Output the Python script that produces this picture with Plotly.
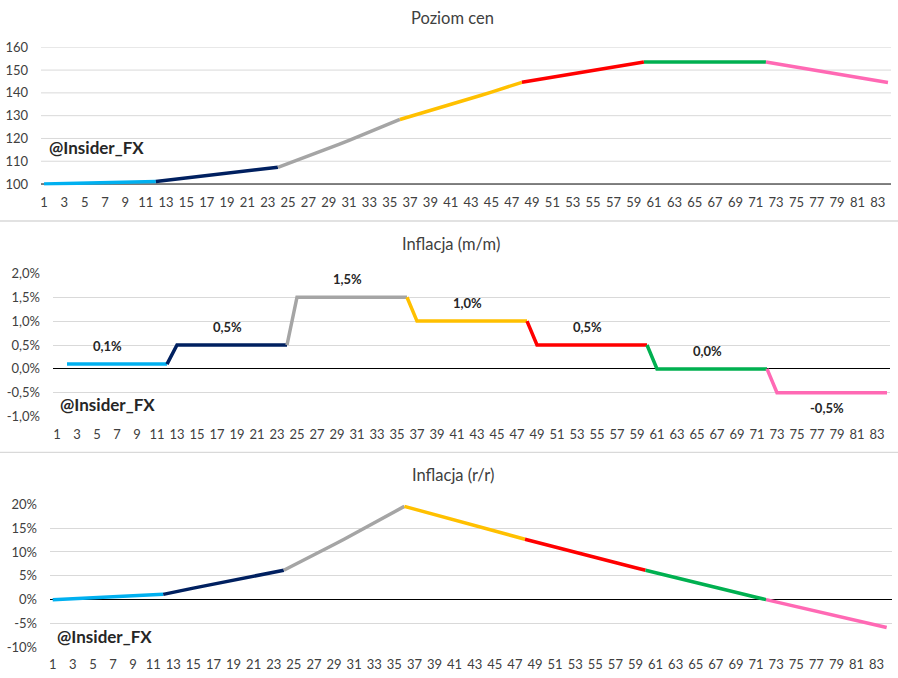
import plotly.graph_objects as go

W, H = 898, 678

months = list(range(1, 85))

price_level = [
    100.00, 100.10, 100.20, 100.30, 100.40, 100.50, 100.60, 100.70, 100.80, 100.90, 101.00, 101.11,
    101.61, 102.12, 102.63, 103.14, 103.66, 104.18, 104.70, 105.22, 105.75, 106.28, 106.81, 107.34,
    108.95, 110.59, 112.24, 113.93, 115.64, 117.37, 119.13, 120.92, 122.73, 124.57, 126.44, 128.34,
    129.62, 130.92, 132.23, 133.55, 134.89, 136.23, 137.60, 138.97, 140.36, 141.77, 143.18, 144.62,
    145.34, 146.07, 146.80, 147.53, 148.27, 149.01, 149.75, 150.50, 151.26, 152.01, 152.77, 153.54,
    153.54, 153.54, 153.54, 153.54, 153.54, 153.54, 153.54, 153.54, 153.54, 153.54, 153.54, 153.54,
    152.77, 152.00, 151.24, 150.49, 149.74, 148.99, 148.24, 147.50, 146.76, 146.03, 145.30, 144.57,
]

mm_inflation = [
    None, 0.1, 0.1, 0.1, 0.1, 0.1, 0.1, 0.1, 0.1, 0.1, 0.1, 0.1,
    0.5, 0.5, 0.5, 0.5, 0.5, 0.5, 0.5, 0.5, 0.5, 0.5, 0.5, 0.5,
    1.5, 1.5, 1.5, 1.5, 1.5, 1.5, 1.5, 1.5, 1.5, 1.5, 1.5, 1.5,
    1.0, 1.0, 1.0, 1.0, 1.0, 1.0, 1.0, 1.0, 1.0, 1.0, 1.0, 1.0,
    0.5, 0.5, 0.5, 0.5, 0.5, 0.5, 0.5, 0.5, 0.5, 0.5, 0.5, 0.5,
    0.0, 0.0, 0.0, 0.0, 0.0, 0.0, 0.0, 0.0, 0.0, 0.0, 0.0, 0.0,
    -0.5, -0.5, -0.5, -0.5, -0.5, -0.5, -0.5, -0.5, -0.5, -0.5, -0.5, -0.5,
]

yy_inflation = [
    0.00, 0.10, 0.20, 0.30, 0.40, 0.50, 0.60, 0.70, 0.80, 0.90, 1.00, 1.11,
    1.61, 2.02, 2.42, 2.83, 3.25, 3.66, 4.07, 4.49, 4.91, 5.32, 5.75, 6.17,
    7.22, 8.29, 9.37, 10.46, 11.56, 12.67, 13.79, 14.92, 16.06, 17.22, 18.38, 19.56,
    18.97, 18.39, 17.80, 17.22, 16.65, 16.07, 15.50, 14.93, 14.36, 13.80, 13.24, 12.68,
    12.12, 11.57, 11.02, 10.47, 9.92, 9.38, 8.84, 8.30, 7.76, 7.23, 6.70, 6.17,
    5.64, 5.11, 4.59, 4.07, 3.55, 3.04, 2.53, 2.02, 1.51, 1.00, 0.50, 0.00,
    -0.50, -1.00, -1.49, -1.99, -2.48, -2.96, -3.45, -3.93, -4.41, -4.89, -5.36, -5.84,
]

segment_ends = [12, 24, 36, 48, 60, 72, 84]
segment_colors = ["#00B0F0", "#002060", "#A5A5A5", "#FFC000", "#FF0000", "#00B050", "#FF69B4"]

mm_label_months = [6, 18, 30, 42, 54, 66, 78]
mm_label_text = ["0,1%", "0,5%", "1,5%", "1,0%", "0,5%", "0,0%", "-0,5%"]

price_ticks = [100, 110, 120, 130, 140, 150, 160]
mm_ticks = [-1.0, -0.5, 0.0, 0.5, 1.0, 1.5, 2.0]
mm_tick_text = ["-1,0%", "-0,5%", "0,0%", "0,5%", "1,0%", "1,5%", "2,0%"]
yy_ticks = [-10, -5, 0, 5, 10, 15, 20]
yy_tick_text = ["-10%", "-5%", "0%", "5%", "10%", "15%", "20%"]
x_tick_vals = list(range(1, 85, 2))
x_tick_text = [str(v) for v in x_tick_vals]

chart_titles = ["Poziom cen", "Inflacja (m/m)", "Inflacja (r/r)"]
watermark = "@Insider_FX"

FONT = "Lato, Carlito, Calibri, sans-serif"
TXT = "#404040"
GRID = "#D9D9D9"

fig = go.Figure()

series = [(price_level, "x", "y"), (mm_inflation, "x2", "y2"), (yy_inflation, "x3", "y3")]
for vals, xa, ya in series:
    start = 1
    for end, col in zip(segment_ends, segment_colors):
        xs = months[start - 1:end]
        ys = vals[start - 1:end]
        fig.add_trace(go.Scatter(x=xs, y=ys, mode="lines", xaxis=xa, yaxis=ya,
                                 line=dict(color=col, width=3.5), showlegend=False,
                                 hoverinfo="skip", connectgaps=False))
        start = end


def px_y(p):
    return 1 - p / H


def px_x(p):
    return p / W


xcommon = dict(tickmode="array", tickvals=x_tick_vals, ticktext=x_tick_text, showgrid=False,
               zeroline=False, showline=False, ticks="", tickfont=dict(family=FONT, size=13, color=TXT),
               ticklabelstandoff=8, fixedrange=True, automargin=False)
ycommon = dict(tickmode="array", ticks="", tickfont=dict(family=FONT, size=13, color=TXT),
               ticklabelstandoff=12, showline=False, automargin=False, fixedrange=True)

fig.update_layout(
    width=W, height=H, autosize=False, margin=dict(l=0, r=0, t=0, b=0, pad=0),
    paper_bgcolor="white", plot_bgcolor="white", showlegend=False,
    font=dict(family=FONT, color=TXT),
    xaxis=dict(domain=[px_x(41), px_x(891)], range=[0.7, 84.3], anchor="y", **xcommon),
    yaxis=dict(domain=[px_y(185.4), px_y(47.3)], range=[99.4, 160], anchor="x",
               tickvals=price_ticks, showgrid=False, zeroline=False, **ycommon),
    xaxis2=dict(domain=[px_x(53), px_x(890)], range=[0.6, 84.3], anchor="y2", **xcommon),
    yaxis2=dict(domain=[px_y(416.7), px_y(273.3)], range=[-1, 2], anchor="x2",
                tickvals=mm_ticks, ticktext=mm_tick_text, showgrid=True, gridcolor=GRID, gridwidth=1,
                zeroline=True, zerolinecolor="black", zerolinewidth=1, **ycommon),
    xaxis3=dict(domain=[px_x(50), px_x(891.7)], range=[0.73, 84.5], anchor="y3", **xcommon),
    yaxis3=dict(domain=[px_y(647.3), px_y(504.3)], range=[-10, 20], anchor="x3",
                tickvals=yy_ticks, ticktext=yy_tick_text, showgrid=True, gridcolor=GRID, gridwidth=1,
                zeroline=True, zerolinecolor="black", zerolinewidth=1, **ycommon),
)

# gridlines and black baseline of the price chart (drawn beneath the data)
for v in price_ticks:
    fig.add_shape(type="line", xref="x domain", yref="y", x0=0, x1=1, y0=v, y1=v,
                  line=dict(color=("black" if v == price_ticks[0] else GRID), width=1), layer="below")

# separators between the three charts
for yp in (221, 452.3):
    fig.add_shape(type="line", xref="paper", yref="paper", x0=0, x1=1, y0=px_y(yp), y1=px_y(yp),
                  line=dict(color=GRID, width=1.3))

# titles
for t, (xp, yp) in zip(chart_titles, [(452, 18), (451, 244), (453, 475)]):
    fig.add_annotation(text=t, xref="paper", yref="paper", x=px_x(xp), y=px_y(yp),
                       xanchor="center", yanchor="middle", showarrow=False,
                       font=dict(family=FONT, size=16.5, color=TXT))

# watermarks
for xp, yp in [(47, 148), (58, 404), (55, 636)]:
    fig.add_annotation(text="<b>" + watermark + "</b>", xref="paper", yref="paper",
                       x=px_x(xp), y=px_y(yp), xanchor="left", yanchor="middle", showarrow=False,
                       font=dict(family=FONT, size=17, color="#262626"))

# data labels for m/m
for m, lab in zip(mm_label_months, mm_label_text):
    v = mm_inflation[m - 1]
    fig.add_annotation(text="<b>" + lab + "</b>", xref="x2", yref="y2", x=m, y=v,
                       yshift=(-15 if v < 0 else 18), showarrow=False,
                       font=dict(family=FONT, size=13, color="#262626"))

fig.write_html(
    "out.html",
    config={"displayModeBar": False, "responsive": False, "staticPlot": True},
    post_script=("document.documentElement.style.margin='0px';"
                 "document.body.style.margin='0px';"
                 "document.documentElement.style.overflow='hidden';"
                 "document.body.style.overflow='hidden';"),
)
